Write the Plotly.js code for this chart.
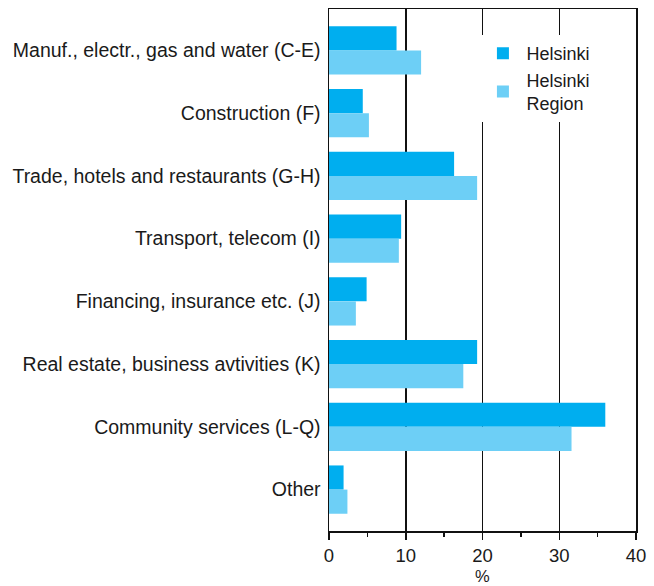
<!DOCTYPE html>
<html>
<head>
<meta charset="utf-8">
<script src="https://cdn.plot.ly/plotly-3.0.1.min.js"></script>
<style>html,body{margin:0;padding:0;background:#fff;}#chart{width:654px;height:586px;}</style>
</head>
<body>
<div id="chart"></div>
<script>
const categories = [
  "Manuf., electr., gas and water (C-E)",
  "Construction (F)",
  "Trade, hotels and restaurants (G-H)",
  "Transport, telecom (I)",
  "Financing, insurance etc. (J)",
  "Real estate, business avtivities (K)",
  "Community services (L-Q)",
  "Other"
];
const helsinki = [8.8, 4.4, 16.3, 9.4, 4.9, 19.3, 36.0, 1.9];
const helsinkiRegion = [12.0, 5.2, 19.3, 9.1, 3.5, 17.5, 31.6, 2.4];
const seriesNames = ["Helsinki", "Helsinki<br>Region"];
const xTicks = [0, 10, 20, 30, 40];
const xTitle = "%";

const font = "'Liberation Sans', Arial, sans-serif";
const txt = "#1a1a1a";
const data = [
  {type: "bar", orientation: "h", y: categories, x: helsinki, name: seriesNames[0],
   marker: {color: "#00AEEF", line: {width: 0}}},
  {type: "bar", orientation: "h", y: categories, x: helsinkiRegion, name: seriesNames[1],
   marker: {color: "#6DCFF6", line: {width: 0}}}
];
const layout = {
  width: 654, height: 586,
  margin: {l: 329, r: 18, t: 9, b: 55, pad: 0},
  paper_bgcolor: "#fff", plot_bgcolor: "#fff",
  barmode: "group", bargap: 0.23, bargroupgap: 0,
  font: {family: font, size: 19.5, color: txt},
  showlegend: true,
  legend: {x: 0.49, y: 0.95, xanchor: "left", yanchor: "top", bgcolor: "#fff",
           font: {family: font, size: 18, color: txt}, tracegroupgap: 12, itemwidth: 37},
  xaxis: {
    range: [0, 40], tickvals: xTicks, ticktext: xTicks.map(String),
    showgrid: true, gridcolor: "#111", gridwidth: 1.5,
    showline: true, linecolor: "#111", linewidth: 1.5, mirror: true,
    ticks: "outside", ticklen: 7, tickwidth: 1.5, tickcolor: "#111",
    minor: {dtick: 5, tick0: 0, ticks: "outside", ticklen: 4, tickwidth: 1.5, tickcolor: "#111", showgrid: false},
    zeroline: false,
    tickfont: {family: font, size: 18.5, color: txt}
  },
  yaxis: {
    type: "category", categoryorder: "array", categoryarray: categories,
    range: [7.66, -0.66],
    showgrid: false, showline: true, linecolor: "#111", linewidth: 1.5, mirror: true,
    ticks: "", tickfont: {family: font, size: 19.5, color: txt}, ticklabelstandoff: 3
  },
  annotations: [
    {text: xTitle, xref: "paper", yref: "paper", x: 0.5, y: -0.1054, xanchor: "center", yanchor: "bottom",
     showarrow: false, font: {family: font, size: 16.5, color: txt}, borderpad: 0}
  ]
};
Plotly.newPlot("chart", data, layout, {displayModeBar: false, staticPlot: true});
</script>
</body>
</html>
